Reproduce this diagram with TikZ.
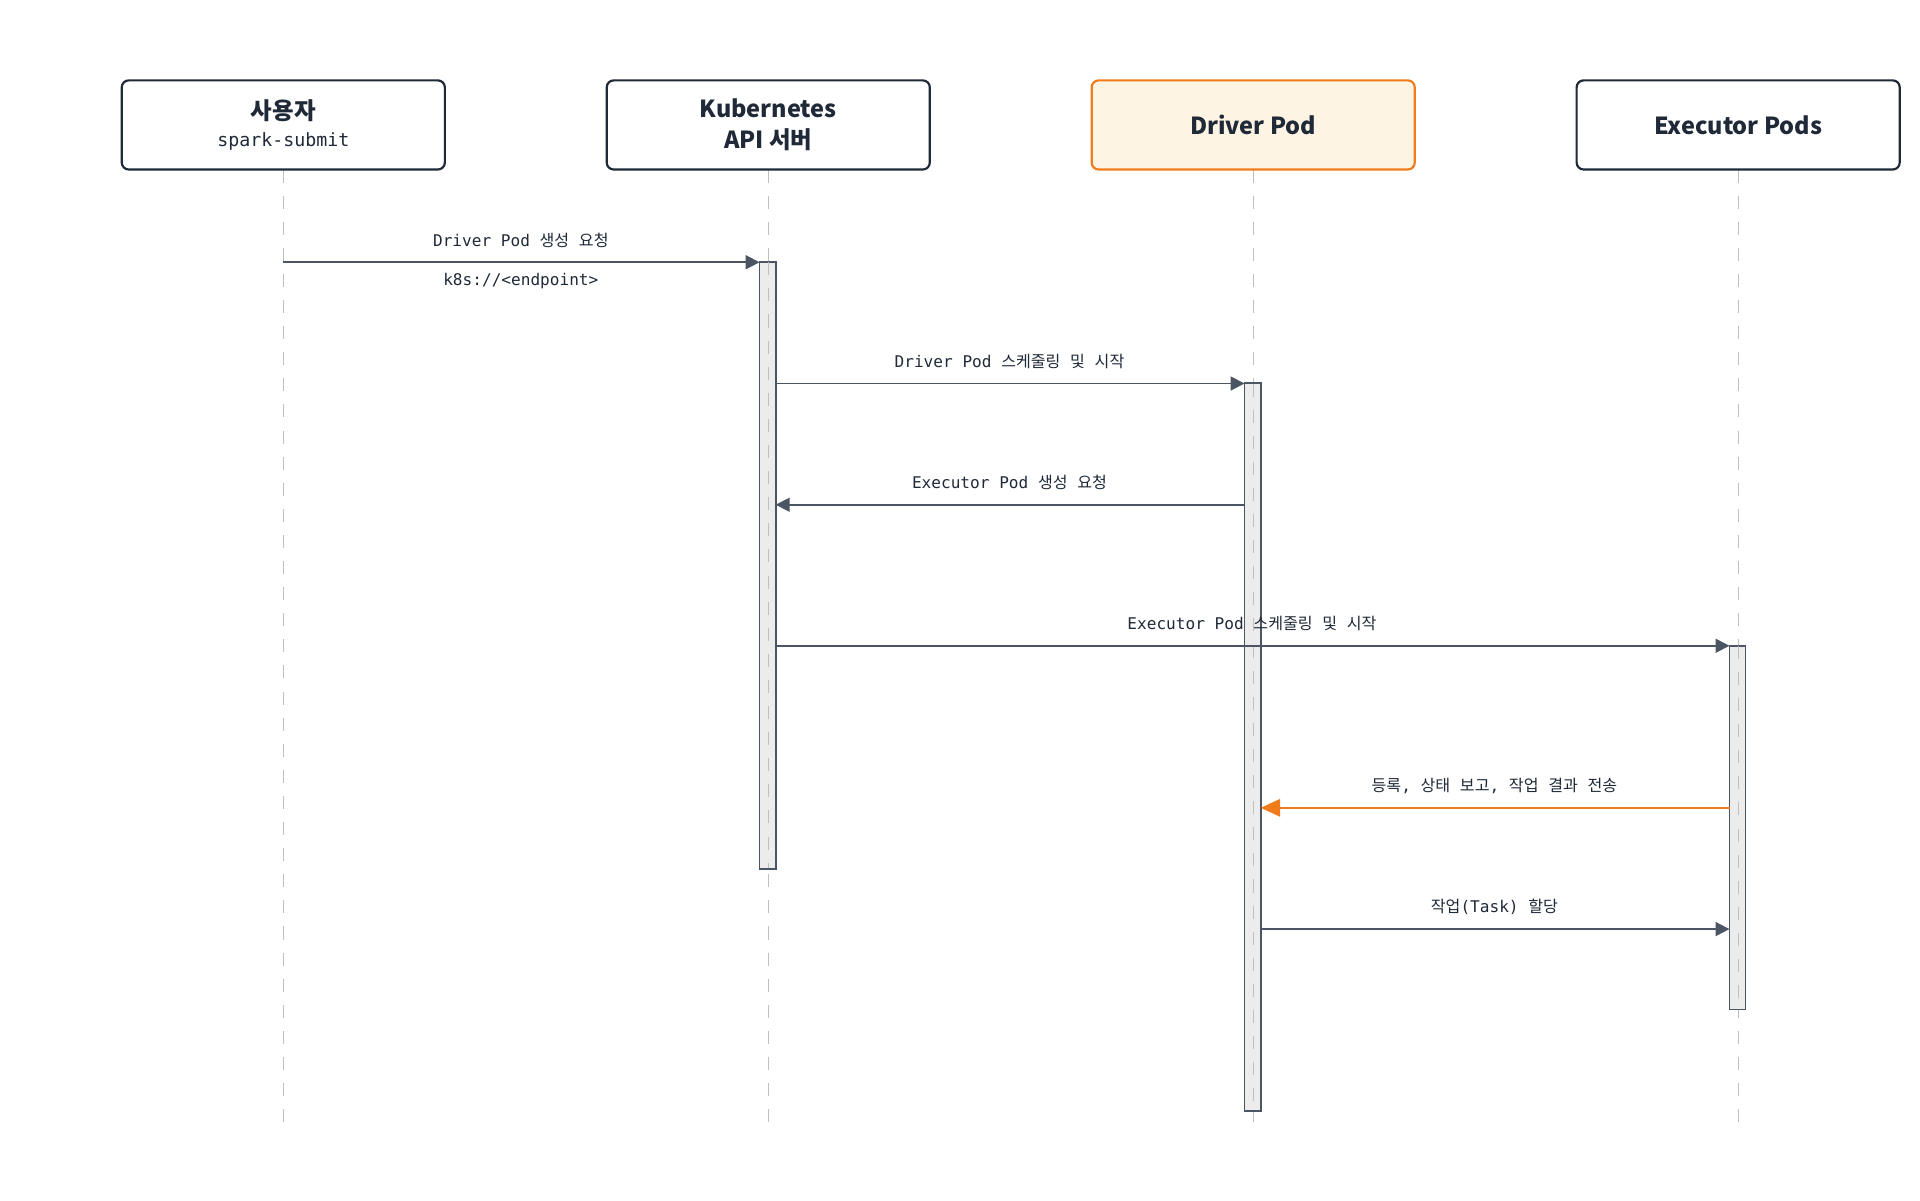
\documentclass[tikz,border=0pt]{standalone}
\usepackage{fontspec}
\setmainfont{Noto Sans CJK KR}
\setmonofont{DejaVu Sans Mono}
\newfontfamily\krfont{Noto Sans CJK KR}
\usetikzlibrary{arrows.meta,positioning}
\definecolor{inkdark}{HTML}{1F2937}
\definecolor{inkgray}{HTML}{4B5563}
\definecolor{orng}{HTML}{F07B1A}
\definecolor{orngfill}{HTML}{FEF4E4}
\tikzset{
  actor/.style={draw=inkdark,line width=0.5pt,rounded corners=1.6pt,minimum width=2.61cm,minimum height=0.72cm,align=center,font=\fontsize{5.4}{7.2}\selectfont\bfseries,text=inkdark,fill=white},
  life/.style={draw=gray!50,dashed,line width=0.3pt},
  act/.style={draw=inkgray,fill=gray!15,line width=0.4pt,minimum width=0.13cm,inner sep=0pt},
  msg/.style={draw=inkgray,line width=0.4pt,-{Triangle[length=3.2pt,width=3.2pt]}},
  lbl/.style={font=\fontsize{3.7}{4.4}\selectfont\ttfamily,text=inkdark}
}
\newcommand{\kr}[1]{{\krfont #1}}
\begin{document}
\begin{tikzpicture}[x=0.01cm,y=-0.01cm]
\useasboundingbox (0,0) rectangle (1552,970);
%lifelines
\foreach \x in {229,621,1013,1405}
  \draw[life](\x,137)--(\x,915);
%actors
\node[actor](user)at(229,101){사용자\\[-1pt]{\mdseries\fontsize{4.2}{5}\selectfont\ttfamily spark-submit}};
\node[actor](api)at(621,101){Kubernetes\\API 서버};
\node[actor,draw=orng,fill=orngfill](drv)at(1013,101){Driver Pod};
\node[actor](exe)at(1405,101){Executor Pods};
%activations
\node[act,minimum height=4.9cm](apiact)at(620.5,457){};
\node[act,minimum height=5.88cm](drvact)at(1012.5,604){};
\node[act,minimum height=2.94cm](exeact)at(1404.5,669){};
\foreach \x/\a/\b in {621/212/702,1013/310/898,1405/522/816}
  \draw[life](\x,\a)--(\x,\b);
%endpoints
\coordinate(u1)at(229,212);
\coordinate(a1)at(614,212);
\coordinate(a2)at(627,310);
\coordinate(d2)at(1006,310);
\coordinate(d3)at(1006,408);
\coordinate(a3)at(627,408);
\coordinate(a4)at(627,522);
\coordinate(e4)at(1398,522);
\coordinate(e5)at(1398,653);
\coordinate(d5)at(1019,653);
\coordinate(d6)at(1019,751);
\coordinate(e6)at(1398,751);
%messages
\draw[msg](u1)--(a1);
\node[lbl]at(421,194){Driver Pod \kr{생성} \kr{요청}};
\node[lbl]at(421,227){k8s://<endpoint>};
\draw[msg](a2)--(d2);
\node[lbl]at(816,292){Driver Pod \kr{스케줄링} \kr{및} \kr{시작}};
\draw[msg](d3)--(a3);
\node[lbl]at(816,390){Executor Pod \kr{생성} \kr{요청}};
\draw[msg](a4)--(e4);
\node[lbl]at(1012,504){Executor Pod \kr{스케줄링} \kr{및} \kr{시작}};
\draw[msg,draw=orng,-{Triangle[length=4.5pt,width=4pt]},fill=orng,line width=0.5pt](e5)--(d5);
\node[lbl]at(1208,635){\kr{등록}, \kr{상태} \kr{보고}, \kr{작업} \kr{결과} \kr{전송}};
\draw[msg](d6)--(e6);
\node[lbl]at(1208,733){\kr{작업}(Task) \kr{할당}};
\end{tikzpicture}
\end{document}
